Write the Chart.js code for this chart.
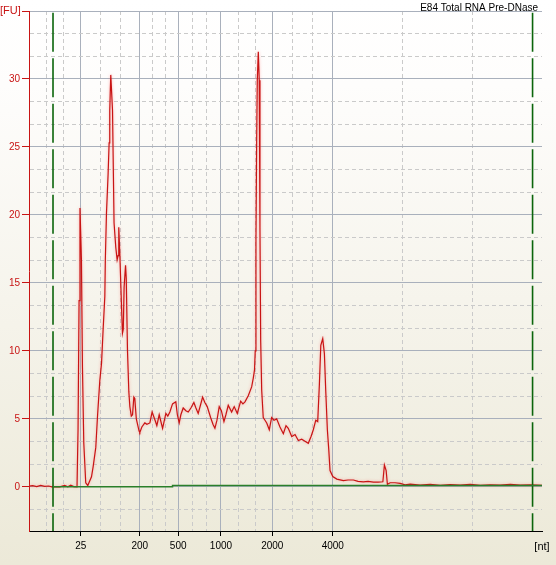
<!DOCTYPE html>
<html>
<head>
<meta charset="utf-8">
<title>E84 Total RNA Pre-DNase</title>
<script src="https://cdn.jsdelivr.net/npm/chart.js@4.4.1/dist/chart.umd.min.js"></script>
<style>
  html, body { margin: 0; padding: 0; background: #ECE9D8; }
  #wrap { width: 556px; height: 565px; }
</style>
</head>
<body>
<div id="wrap"><canvas id="chart" width="556" height="565"></canvas></div>
<script>
// electropherogram: migration time (s) and fluorescence (FU)
const chartTitle = 'E84 Total RNA Pre-DNase';

const traceTime = [
  19.00, 19.36, 19.75, 20.14, 20.53, 20.92, 21.22, 22.00, 22.48, 22.78,
  23.07, 23.36, 23.68, 23.78, 23.88, 23.97, 24.11, 24.21, 24.34, 24.53,
  24.73, 25.09, 25.25, 25.51, 25.67, 25.90, 26.07, 26.22, 26.39, 26.44,
  26.55, 26.71, 26.81, 26.87, 26.97, 27.14, 27.29, 27.46, 27.59, 27.68,
  27.75, 27.85, 28.02, 28.11, 28.19, 28.27, 28.41, 28.48, 28.60, 28.73,
  28.83, 28.97, 29.09, 29.22, 29.31, 29.46, 29.73, 29.80, 30.00, 30.29,
  30.49, 30.78, 31.00, 31.33, 31.46, 31.69, 32.02, 32.34, 32.53, 32.73,
  32.99, 33.31, 33.46, 33.64, 33.80, 34.03, 34.29, 34.52, 34.78, 35.07,
  35.27, 35.49, 35.71, 35.92, 36.14, 36.37, 36.70, 36.93, 37.12, 37.32,
  37.54, 37.75, 38.00, 38.19, 38.42, 38.75, 39.00, 39.30, 39.63, 39.85,
  40.05, 40.37, 40.70, 40.86, 40.98, 41.05, 41.12, 41.19, 41.25, 41.35,
  41.44, 41.51, 41.58, 41.68, 41.83, 42.00, 42.17, 42.42, 42.65, 42.88,
  43.14, 43.46, 43.79, 44.05, 44.27, 44.61, 44.93, 45.25, 45.58, 45.90,
  46.22, 46.49, 46.71, 46.95, 47.14, 47.30, 47.44, 47.63, 47.79, 47.92,
  48.08, 48.22, 48.34, 48.61, 49.00, 49.64, 50.10, 50.62, 51.07, 51.59,
  52.05, 52.57, 53.03, 53.49, 53.64, 53.81, 53.93, 54.20, 54.68, 55.17,
  55.66, 56.15, 57.12, 58.10, 59.08, 60.05, 61.03, 62.00, 62.98, 63.95,
  64.93, 65.91, 66.88, 67.86, 69.00
];
const traceFU = [
  0.05, 0.08, 0.02, 0.1, 0.03, 0.06, 0.0, 0.0, 0.1, 0.0,
  0.12, 0.02, 0.0, 4.2, 13.7, 20.5, 16.7, 8.8, 3.2, 0.3,
  0.1, 0.74, 1.47, 2.9, 5.1, 7.8, 9.1, 11.5, 14.0, 16.7,
  20.1, 23.0, 25.3, 27.7, 30.3, 27.7, 19.4, 17.6, 16.7, 17.0,
  19.1, 17.2, 13.2, 11.3, 11.6, 14.7, 16.3, 15.3, 10.0, 7.0,
  5.9, 5.2, 5.3, 6.6, 6.5, 5.0, 4.1, 4.0, 4.4, 4.7,
  4.6, 4.7, 5.5, 4.8, 4.5, 5.3, 4.3, 5.4, 5.2, 5.5,
  6.1, 6.25, 5.3, 4.7, 5.3, 5.8, 5.6, 5.5, 5.8, 6.2,
  5.8, 5.4, 6.0, 6.6, 6.2, 5.9, 5.1, 4.6, 4.3, 4.9,
  5.9, 5.6, 4.8, 5.3, 6.0, 5.5, 5.9, 5.4, 6.3, 6.1,
  6.25, 6.7, 7.35, 8.0, 8.6, 10.0, 18.1, 25.5, 29.9, 32.0,
  29.9, 19.1, 10.8, 7.1, 5.1, 4.9, 4.7, 4.2, 5.1, 4.9,
  5.0, 4.4, 3.9, 4.5, 4.3, 3.7, 3.85, 3.4, 3.5, 3.35,
  3.2, 3.7, 4.2, 4.9, 4.8, 7.5, 10.4, 10.9, 9.8, 7.1,
  4.2, 2.7, 1.2, 0.75, 0.57, 0.45, 0.5, 0.5, 0.4, 0.37,
  0.4, 0.35, 0.35, 0.37, 1.6, 1.2, 0.18, 0.3, 0.3, 0.25,
  0.15, 0.2, 0.12, 0.18, 0.1, 0.17, 0.12, 0.18, 0.1, 0.15,
  0.12, 0.18, 0.12, 0.15, 0.1
];

// baseline drawn by the software
const baselineTime = [21.34, 32.99, 32.99, 69.00];
const baselineFU = [0, 0, 0.1, 0.1];

// lower / upper alignment markers
const markerTime = [21.34, 68.08];

// ladder peaks give the nt labels on the x axis
const ladderTime = [24.04, 29.80, 33.54, 37.71, 42.71, 48.61];
const ladderLabels = ['25', '200', '500', '1000', '2000', '4000'];

const yTickValues = [0, 5, 10, 15, 20, 25, 30, 35];
const yTickLabels = ['0', '5', '10', '15', '20', '25', '30', ''];

const xMin = 19, xMax = 69, yMin = -3.25, yMax = 35;

// grid: solid at ladder / every 5 FU, dashed thirds in between
const xBounds = [xMin, ...ladderTime, xMax];
const xGrid = [];
for (let i = 0; i < xBounds.length - 1; i++) {
  const a = xBounds[i], b = xBounds[i + 1];
  if (i > 0) xGrid.push(a);
  xGrid.push(a + (b - a) / 3, a + 2 * (b - a) / 3);
}
const yGrid = [];
for (let k = -1; k <= 21; k++) yGrid.push(k * 5 / 3);

const isMajorX = v => ladderTime.includes(v);
const isMajorY = v => Math.abs(v / 5 - Math.round(v / 5)) < 1e-6;

const MAJOR = '#A9B0BC';
const MINOR = '#CACACA';
const RED = '#C81414';

Chart.defaults.font.family = '"Liberation Sans", Arial, sans-serif';
Chart.defaults.font.size = 10;

const background = {
  id: 'background',
  beforeDraw(chart) {
    const { ctx, width, height } = chart;
    const g = ctx.createLinearGradient(0, 0, 0, height);
    g.addColorStop(0, '#FFFFFF');
    g.addColorStop(0.15, '#FEFDFC');
    g.addColorStop(1, '#ECE9D8');
    ctx.save();
    ctx.fillStyle = g;
    ctx.fillRect(0, 0, width, height);
    ctx.restore();
  }
};

// soft pink halo around the red trace
const traceGlow = {
  id: 'traceGlow',
  beforeDatasetDraw(chart, args) {
    if (args.index !== 3) return;
    chart.ctx.save();
    chart.ctx.shadowColor = 'rgba(255, 110, 110, 0.55)';
    chart.ctx.shadowBlur = 3;
  },
  afterDatasetDraw(chart, args) {
    if (args.index !== 3) return;
    chart.ctx.restore();
  }
};

const overlayText = {
  id: 'overlayText',
  afterDraw(chart) {
    const { ctx, chartArea } = chart;
    ctx.save();
    ctx.textBaseline = 'alphabetic';
    ctx.font = '10px "Liberation Sans", Arial, sans-serif';
    ctx.fillStyle = '#000';
    ctx.textAlign = 'right';
    ctx.fillText(chartTitle, chartArea.right - 4, chartArea.top);
    ctx.font = '11px "Liberation Sans", Arial, sans-serif';
    ctx.fillStyle = RED;
    ctx.textAlign = 'left';
    ctx.fillText('[FU]', 0, chartArea.top + 3);
    ctx.fillStyle = '#000';
    ctx.textAlign = 'center';
    ctx.fillText('[nt]', chartArea.right, chartArea.bottom + 19);
    ctx.restore();
  }
};

const pts = (xs, ys) => xs.map((x, i) => ({ x, y: ys[i] }));

new Chart(document.getElementById('chart'), {
  type: 'line',
  data: {
    datasets: [
      {
        label: 'baseline',
        data: pts(baselineTime, baselineFU),
        borderColor: '#2A7F2A',
        borderWidth: 1.5
      },
      {
        label: 'lower marker',
        data: [{ x: markerTime[0], y: yMax }, { x: markerTime[0], y: yMin }],
        borderColor: '#0B650B',
        borderWidth: 1.6,
        borderDash: [39, 6.5],
        borderDashOffset: -1.7
      },
      {
        label: 'upper marker',
        data: [{ x: markerTime[1], y: yMax }, { x: markerTime[1], y: yMin }],
        borderColor: '#0B650B',
        borderWidth: 1.6,
        borderDash: [39, 6.5],
        borderDashOffset: -1.7
      },
      {
        label: chartTitle,
        data: pts(traceTime, traceFU),
        borderColor: RED,
        borderWidth: 1.2
      }
    ]
  },
  options: {
    responsive: false,
    animation: false,
    devicePixelRatio: 1,
    layout: { padding: { top: 11, right: 14, left: 0, bottom: 0 } },
    elements: {
      point: { radius: 0, hoverRadius: 0 },
      line: { tension: 0, fill: false }
    },
    plugins: {
      legend: { display: false },
      tooltip: { enabled: false }
    },
    scales: {
      x: {
        type: 'linear',
        min: xMin,
        max: xMax,
        afterBuildTicks: scale => { scale.ticks = xGrid.map(v => ({ value: v })); },
        afterFit: scale => { scale.height = 34; },
        ticks: {
          autoSkip: false,
          maxRotation: 0,
          color: '#000',
          padding: 4,
          callback: v => {
            const i = ladderTime.indexOf(v);
            return i >= 0 ? ladderLabels[i] : '';
          }
        },
        grid: {
          color: ctx => ctx.tick && isMajorX(ctx.tick.value) ? MAJOR : MINOR,
          tickColor: ctx => ctx.tick && isMajorX(ctx.tick.value) ? '#000' : 'rgba(0,0,0,0)',
          tickLength: 5,
          tickBorderDash: []
        },
        border: {
          color: '#000',
          dash: ctx => ctx.tick && !isMajorX(ctx.tick.value) ? [4, 3] : []
        }
      },
      y: {
        min: yMin,
        max: yMax,
        afterBuildTicks: scale => { scale.ticks = yGrid.map(v => ({ value: v })); },
        afterFit: scale => { scale.width = 29; },
        ticks: {
          color: RED,
          padding: 2,
          callback: v => {
            if (!isMajorY(v)) return '';
            const i = yTickValues.indexOf(Math.round(v));
            return i >= 0 ? yTickLabels[i] : '';
          }
        },
        grid: {
          color: ctx => ctx.tick && isMajorY(ctx.tick.value) ? MAJOR : MINOR,
          tickColor: ctx => ctx.tick && isMajorY(ctx.tick.value) && ctx.tick.value >= 0 ? RED : 'rgba(0,0,0,0)',
          tickLength: 7,
          tickBorderDash: []
        },
        border: {
          color: RED,
          dash: ctx => ctx.tick && !isMajorY(ctx.tick.value) ? [4, 3] : []
        }
      }
    }
  },
  plugins: [background, traceGlow, overlayText]
});
</script>
</body>
</html>
